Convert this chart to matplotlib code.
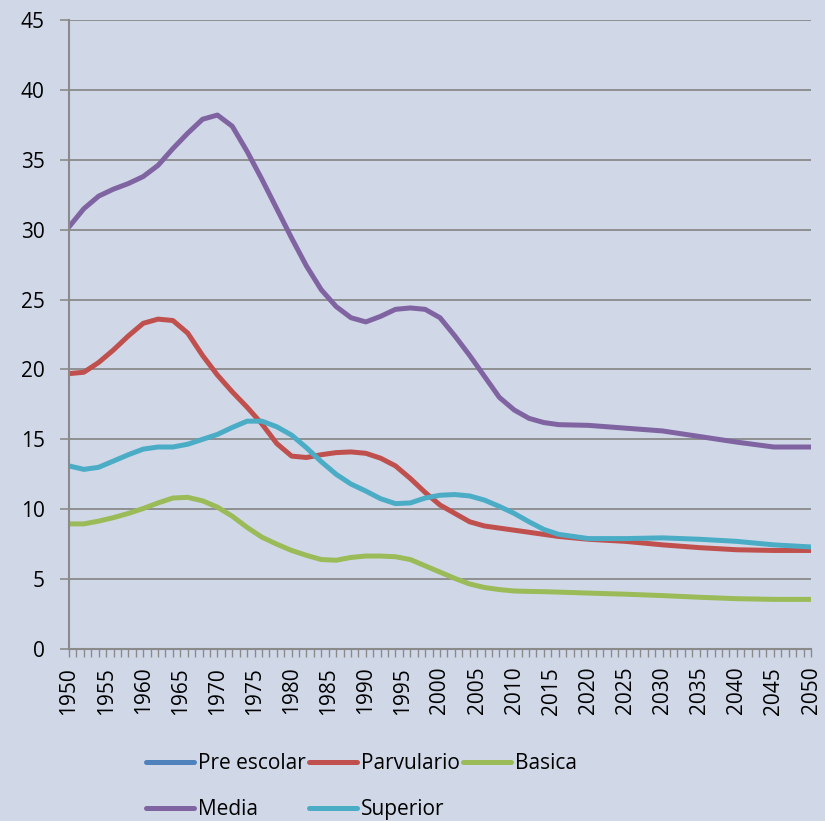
import numpy as np
import matplotlib
matplotlib.use("Agg")
from matplotlib import pyplot as plt
from matplotlib.ticker import MultipleLocator

plt.rcParams['font.family'] = ['Open Sans', 'DejaVu Sans']

# anos (cada 2 anos hasta 2016, luego cada 5)
years = [1950, 1952, 1954, 1956, 1958, 1960, 1962, 1964, 1966, 1968,
         1970, 1972, 1974, 1976, 1978, 1980, 1982, 1984, 1986, 1988,
         1990, 1992, 1994, 1996, 1998, 2000, 2002, 2004, 2006, 2008,
         2010, 2012, 2014, 2016, 2020, 2025, 2030, 2035, 2040, 2045, 2050]

pre_escolar = []  # sin datos visibles

parvulario = [19.7, 19.8, 20.5, 21.4, 22.4, 23.3, 23.6, 23.5, 22.6, 21.0,
              19.6, 18.4, 17.3, 16.1, 14.7, 13.8, 13.7, 13.9, 14.05, 14.1,
              14.0, 13.65, 13.1, 12.2, 11.2, 10.3, 9.7, 9.1, 8.8, 8.65,
              8.5, 8.35, 8.2, 8.05, 7.85, 7.7, 7.45, 7.25, 7.1, 7.05, 7.05]

basica = [8.95, 8.95, 9.15, 9.4, 9.7, 10.05, 10.45, 10.8, 10.85, 10.6,
          10.15, 9.5, 8.7, 8.0, 7.5, 7.05, 6.7, 6.4, 6.35, 6.55,
          6.65, 6.65, 6.6, 6.4, 5.95, 5.5, 5.05, 4.65, 4.4, 4.25,
          4.15, 4.12, 4.1, 4.07, 4.0, 3.92, 3.82, 3.7, 3.6, 3.55, 3.55]

media = [30.2, 31.5, 32.4, 32.9, 33.3, 33.8, 34.6, 35.8, 36.9, 37.9,
         38.2, 37.4, 35.6, 33.6, 31.5, 29.4, 27.4, 25.7, 24.5, 23.7,
         23.4, 23.8, 24.3, 24.4, 24.3, 23.7, 22.4, 21.0, 19.5, 18.0,
         17.1, 16.5, 16.2, 16.05, 16.0, 15.8, 15.6, 15.2, 14.8, 14.45, 14.45]

superior = [13.1, 12.85, 13.0, 13.45, 13.9, 14.3, 14.45, 14.45, 14.65, 15.0,
            15.35, 15.85, 16.3, 16.3, 15.9, 15.3, 14.4, 13.4, 12.5, 11.8,
            11.3, 10.75, 10.4, 10.45, 10.8, 11.0, 11.05, 10.95, 10.65, 10.2,
            9.7, 9.1, 8.55, 8.2, 7.9, 7.9, 7.95, 7.85, 7.7, 7.45, 7.3]

bg = '#d0d8e8'
grid_c = '#8a8a8a'

fig = plt.figure(figsize=(8.25, 8.21), dpi=100, facecolor=bg)
ax = fig.add_axes([69/825, 1-649/821, (811-69)/825, (649-20)/821])
ax.set_facecolor(bg)

lw = 3.6
kw = dict(linewidth=lw, solid_capstyle='round', solid_joinstyle='round')
h_pre, = ax.plot(years[:len(pre_escolar)], pre_escolar, color='#4f81bd', label='Pre escolar', **kw)
h_par, = ax.plot(years, parvulario, color='#c0504d', label='Parvulario', **kw)
h_bas, = ax.plot(years, basica, color='#9bbb59', label='Basica', **kw)
h_med, = ax.plot(years, media, color='#8064a2', label='Media', **kw)
h_sup, = ax.plot(years, superior, color='#4bacc6', label='Superior', **kw)

ax.set_xlim(1950, 2050)
ax.set_ylim(0, 45)
ax.yaxis.set_major_locator(MultipleLocator(5))
ax.xaxis.set_major_locator(MultipleLocator(5))
ax.xaxis.set_minor_locator(MultipleLocator(1))

ax.grid(axis='y', color=grid_c, linewidth=1.3)
ax.set_axisbelow(True)

for s in ['top', 'right']:
    ax.spines[s].set_visible(False)
for s in ['left', 'bottom']:
    ax.spines[s].set_color(grid_c)
    ax.spines[s].set_linewidth(1.5)

fs = 15
ax.tick_params(axis='y', which='major', length=6.5, width=1.2, color=grid_c,
               labelsize=fs, pad=11, labelcolor='black')
ax.tick_params(axis='x', which='both', length=5.8, width=1.0, color=grid_c,
               labelsize=fs, pad=7, labelcolor='black')
ax.set_xticks(range(1950, 2051, 5))
ax.set_xticklabels([str(y) for y in range(1950, 2051, 5)], rotation=90)

handles = [h_pre, h_med, h_par, h_sup, h_bas]
leg = fig.legend(handles, [h.get_label() for h in handles], ncol=3,
                 loc='upper left', bbox_to_anchor=(138/825, 1-745/821),
                 frameon=False, fontsize=fs, handlelength=2.3,
                 handletextpad=0.2, columnspacing=0.15, labelspacing=1.2,
                 borderaxespad=0)

fig.savefig('out.png', dpi=100, facecolor=bg)
